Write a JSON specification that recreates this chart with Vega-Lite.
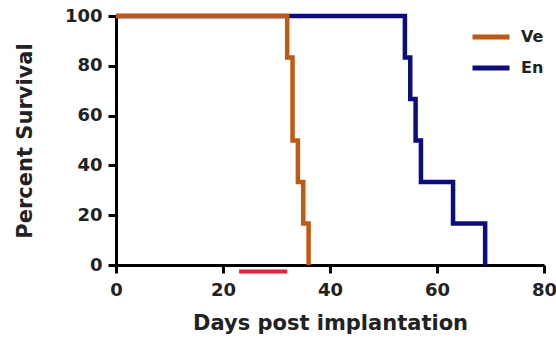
{
  "$schema": "https://vega.github.io/schema/vega-lite/v6.json",
  "width": 428,
  "height": 249,
  "autosize": "none",
  "padding": {"left": 116, "top": 16, "right": 12, "bottom": 73},
  "background": "white",
  "config": {
    "view": {"stroke": null},
    "font": "DejaVu Sans",
    "axis": {
      "domainColor": "black",
      "domainWidth": 3,
      "tickColor": "black",
      "tickWidth": 3,
      "tickSize": 8,
      "grid": false,
      "labelFlush": false,
      "labelFont": "DejaVu Sans",
      "labelFontWeight": "bold",
      "labelFontSize": 18,
      "labelColor": "#222",
      "titleFont": "DejaVu Sans",
      "titleFontWeight": "bold",
      "titleFontSize": 21,
      "titleColor": "#222"
    }
  },
  "datasets": {
    "survival": [
      {"group": "En", "day": 0, "pct": 100},
      {"group": "En", "day": 54, "pct": 83.3},
      {"group": "En", "day": 55, "pct": 66.7},
      {"group": "En", "day": 56, "pct": 50},
      {"group": "En", "day": 57, "pct": 33.3},
      {"group": "En", "day": 63, "pct": 16.7},
      {"group": "En", "day": 69, "pct": 0},
      {"group": "Ve", "day": 0, "pct": 100},
      {"group": "Ve", "day": 32, "pct": 83.3},
      {"group": "Ve", "day": 33, "pct": 50},
      {"group": "Ve", "day": 34, "pct": 33.3},
      {"group": "Ve", "day": 35, "pct": 16.7},
      {"group": "Ve", "day": 36, "pct": 0}
    ],
    "treatment": [
      {"start": 23, "end": 32}
    ]
  },
  "layer": [
    {
      "data": {"name": "survival"},
      "mark": {"type": "line", "interpolate": "step-after", "strokeWidth": 4.5, "clip": false},
      "encoding": {
        "x": {
          "field": "day",
          "type": "quantitative",
          "scale": {"domain": [0, 80], "nice": false},
          "axis": {"values": [0, 20, 40, 60, 80], "title": "Days post implantation", "labelPadding": 8, "titlePadding": 13}
        },
        "y": {
          "field": "pct",
          "type": "quantitative",
          "scale": {"domain": [0, 100], "nice": false},
          "axis": {"values": [0, 20, 40, 60, 80, 100], "title": "Percent Survival", "labelPadding": 6, "titlePadding": 29}
        },
        "color": {
          "field": "group",
          "type": "nominal",
          "scale": {"domain": ["Ve", "En"], "range": ["#c05a12", "#0c0c82"]},
          "legend": {
            "title": null,
            "orient": "none",
            "legendX": 354,
            "legendY": 0,
            "padding": 0,
            "symbolType": "stroke",
            "symbolSize": 1369,
            "symbolStrokeWidth": 5,
            "labelFont": "DejaVu Sans",
            "labelFontWeight": "bold",
            "labelFontSize": 16,
            "labelColor": "#222",
            "labelOffset": 9,
            "rowPadding": -5
          }
        },
        "order": {"field": "group", "sort": "ascending"}
      }
    },
    {
      "data": {"name": "treatment"},
      "mark": {"type": "rule", "color": "#f01e3c", "strokeWidth": 4, "yOffset": 6.5},
      "encoding": {
        "x": {"field": "start", "type": "quantitative"},
        "x2": {"field": "end"},
        "y": {"datum": 0}
      }
    }
  ]
}
